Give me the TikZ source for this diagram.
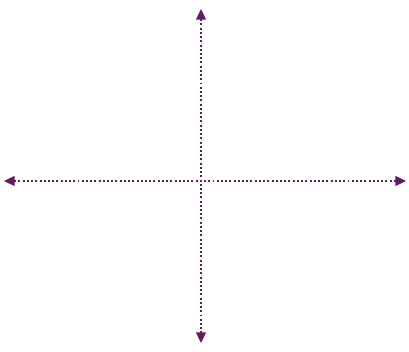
\documentclass[tikz,border=0pt]{standalone}
\usepackage{xcolor}
\usetikzlibrary{arrows.meta}
\definecolor{axispurple}{RGB}{98,28,98}

\begin{document}
\begin{tikzpicture}[x=0.025cm,y=-0.025cm,
        axisline/.style={axispurple,line width=0.9pt,dash pattern=on 1.4pt off 1.6pt,
            {Triangle[length=7.5pt,width=7pt]}-{Triangle[length=7.5pt,width=7pt]}}]
        \useasboundingbox (0,0) rectangle (409,352);
        \coordinate (top) at (201,9);
        \coordinate (bottom) at (201,343);
        \coordinate (left) at (4,181);
        \coordinate (right) at (406,181);
        \draw[axisline] (top) -- (bottom);
        \draw[axisline] (left) -- (right);
    \end{tikzpicture}
\end{document}
